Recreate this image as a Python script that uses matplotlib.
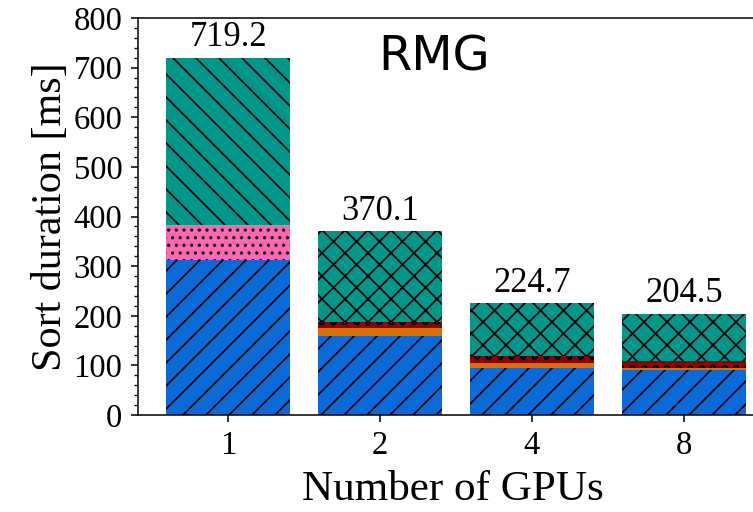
import numpy as np
import matplotlib
matplotlib.use("Agg")
import matplotlib.pyplot as plt

# GPU counts on the x axis and total sort time per configuration
gpus = ["1", "2", "4", "8"]
totals = [719.2, 370.1, 224.7, 204.5]

# Stacked phase durations (ms), bottom to top
local_sort = [313, 160, 94, 91]          # blue, '/'
phase_pink = [70, 0, 0, 0]               # pink, dotted (single GPU only)
phase_orange = [0, 15, 10, 3]            # orange
phase_darkred = [0, 13, 15, 15.5]        # dark red, circles
# top segment fills up to the total
merge = [t - a - b - c - d for t, a, b, c, d in
         zip(totals, local_sort, phase_pink, phase_orange, phase_darkred)]
merge_hatch = ["\\\\", "xx", "xx", "xx"]

DPI = 138
plt.rcParams["hatch.color"] = "black"
plt.rcParams["hatch.linewidth"] = 0.9
plt.rcParams["font.family"] = ["Liberation Serif", "DejaVu Serif"]

fig = plt.figure(figsize=(753 / DPI, 512 / DPI), dpi=DPI)
ax = fig.add_axes([138 / 753, 97 / 512, 629.4 / 753, 397 / 512])

x = np.arange(len(gpus))
w = 0.82
blue = "#0a6ad8"
pink = "#ff69b4"
orange = "#dc6e00"
darkred = "#8b0000"
teal = "#00968a"

bottom = np.zeros(len(gpus))
ax.bar(x, local_sort, w, bottom=bottom, color=blue, hatch="//", linewidth=0)
bottom += local_sort
ax.bar(x, phase_pink, w, bottom=bottom, color=pink, hatch="...", linewidth=0)
bottom += phase_pink
ax.bar(x, phase_orange, w, bottom=bottom, color=orange, linewidth=0)
bottom += phase_orange
ax.bar(x, phase_darkred, w, bottom=bottom, color=darkred, hatch="oo", linewidth=0)
bottom += phase_darkred
for i in range(len(gpus)):
    ax.bar(x[i], merge[i], w, bottom=bottom[i], color=teal,
           hatch=merge_hatch[i], linewidth=0)

for xi, t in zip(x, totals):
    ax.annotate(f"{t:.1f}", (xi, t), xytext=(0, 2), textcoords="offset points",
                ha="center", va="bottom", fontsize=18)

ax.text(0.47, 0.96, "RMG", transform=ax.transAxes, ha="center", va="top",
        fontsize=25, family="DejaVu Sans")

ax.set_xlim(-0.593, 3.55)
ax.set_ylim(0, 800)
ax.set_xticks(x)
ax.set_xticklabels(gpus)
ax.set_yticks(np.arange(0, 801, 100))
ax.set_yticks(np.arange(0, 801, 20), minor=True)
ax.tick_params(axis="both", which="major", direction="out", length=3.6,
               width=0.8, labelsize=17, pad=4.5)
ax.tick_params(axis="y", which="minor", direction="out", length=2, width=0.7)
ax.set_xlabel("Number of GPUs", fontsize=22.5, labelpad=5)
ax.set_ylabel("Sort duration [ms]", fontsize=22, labelpad=2)
for s in ax.spines.values():
    s.set_linewidth(0.8)

fig.savefig("out.png", dpi=DPI)
